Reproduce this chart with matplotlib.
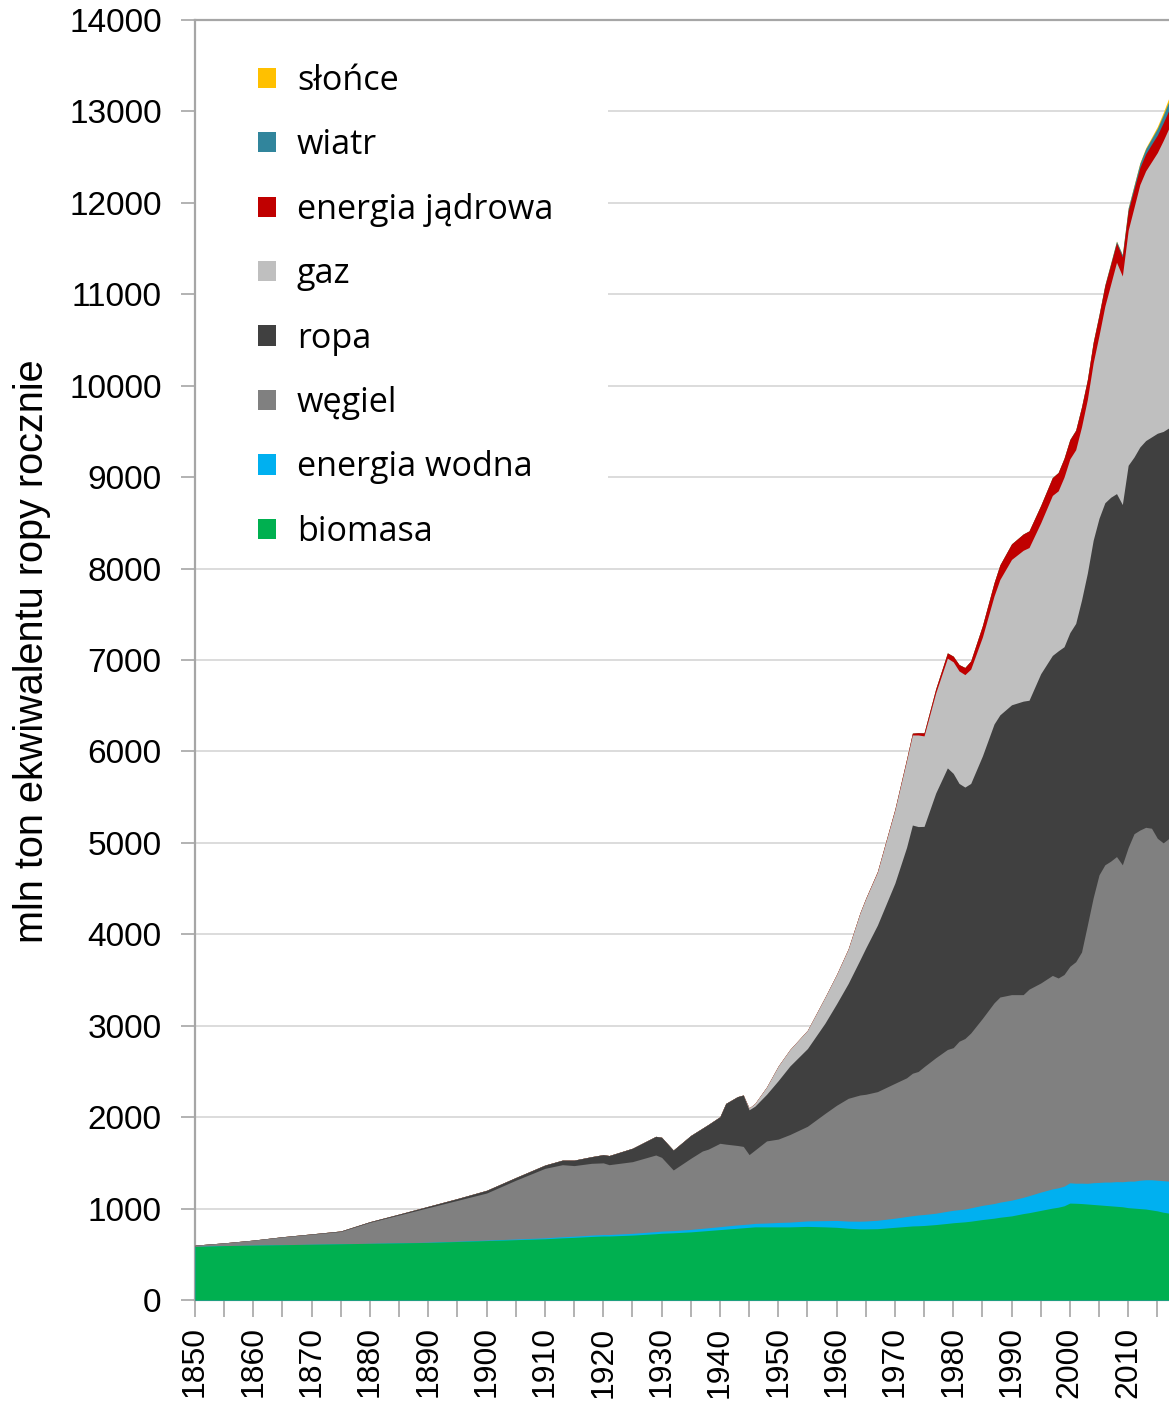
import matplotlib
matplotlib.use('Agg')
import matplotlib.pyplot as plt
import numpy as np
from matplotlib.patches import Patch, Rectangle

years = [1850, 1855, 1860, 1865, 1870, 1875, 1880, 1885, 1890, 1895,
         1900, 1905, 1910, 1913, 1915, 1918, 1920, 1921, 1925, 1929,
         1930, 1932, 1935, 1937, 1938, 1940, 1941, 1943, 1944, 1945,
         1946, 1948, 1950, 1952, 1955, 1958, 1960, 1962, 1964, 1965,
         1967, 1970, 1972, 1973, 1974, 1975, 1977, 1979, 1980, 1981,
         1982, 1983, 1985, 1987, 1988, 1990, 1992, 1993, 1995, 1997,
         1998, 1999, 2000, 2001, 2002, 2003, 2004, 2005, 2006, 2007,
         2008, 2009, 2010, 2011, 2012, 2013, 2014, 2015, 2016, 2017]

biomasa = [585, 595, 600, 605, 610, 615, 620, 625, 630, 640,
           650, 660, 670, 680, 685, 695, 700, 700, 710, 725,
           730, 735, 745, 755, 760, 770, 775, 785, 790, 795,
           800, 800, 800, 800, 805, 800, 795, 785, 778, 778,
           780, 795, 805, 810, 812, 815, 825, 838, 845, 850,
           855, 862, 880, 895, 905, 920, 945, 955, 980, 1005,
           1015, 1030, 1060, 1058, 1055, 1050, 1045, 1040, 1035, 1030,
           1025, 1020, 1010, 1005, 1000, 995, 985, 975, 960, 950]

energia_wodna = [0, 0, 0, 0, 0, 0, 0, 1, 2, 3,
                 5, 7, 10, 12, 13, 15, 16, 16, 19, 23,
                 24, 24, 27, 29, 30, 32, 34, 36, 36, 36,
                 38, 42, 48, 52, 60, 68, 75, 78, 84, 86,
                 92, 100, 108, 112, 118, 120, 124, 133, 136, 138,
                 140, 146, 155, 160, 165, 172, 178, 186, 200, 210,
                 212, 215, 222, 219, 223, 226, 238, 246, 255, 260,
                 270, 273, 290, 295, 310, 320, 330, 335, 345, 350]

wegiel = [15, 30, 55, 85, 110, 135, 230, 304, 378, 447,
          515, 643, 760, 788, 772, 785, 784, 764, 784, 838,
          806, 663, 778, 846, 860, 912, 896, 869, 854, 759,
          802, 898, 912, 958, 1035, 1172, 1260, 1343, 1380, 1386,
          1407, 1475, 1517, 1558, 1570, 1617, 1701, 1769, 1779, 1842,
          1865, 1912, 2045, 2195, 2244, 2248, 2217, 2259, 2287, 2335,
          2295, 2315, 2368, 2423, 2528, 2824, 3117, 3364, 3470, 3510,
          3555, 3467, 3650, 3800, 3830, 3855, 3845, 3740, 3695, 3750]

ropa = [0, 0, 0, 2, 3, 5, 7, 10, 15, 20,
        30, 30, 36, 50, 60, 73, 90, 100, 147, 204,
        220, 218, 250, 250, 270, 291, 445, 534, 562, 490,
        480, 510, 640, 750, 850, 987, 1110, 1257, 1477, 1600,
        1821, 2190, 2520, 2715, 2678, 2628, 2895, 3080, 3000, 2820,
        2750, 2730, 2870, 3050, 3086, 3170, 3210, 3160, 3383, 3500,
        3578, 3585, 3650, 3700, 3849, 3850, 3910, 3900, 3960, 3980,
        3970, 3940, 4180, 4120, 4190, 4230, 4280, 4430, 4500, 4490]

gaz = [0, 0, 0, 0, 0, 0, 0, 0, 0, 0,
       0, 0, 0, 0, 0, 0, 0, 0, 0, 0,
       0, 0, 0, 0, 0, 0, 0, 0, 0, 20,
       30, 80, 160, 180, 200, 283, 320, 377, 511, 540,
       580, 800, 950, 985, 1002, 990, 1095, 1200, 1220, 1230,
       1230, 1250, 1300, 1400, 1480, 1590, 1650, 1670, 1650, 1750,
       1750, 1855, 1900, 1900, 1895, 1900, 1940, 2000, 2150, 2330,
       2530, 2500, 2570, 2730, 2870, 2950, 3010, 3070, 3180, 3280]

energia_jadrowa = [0, 0, 0, 0, 0, 0, 0, 0, 0, 0,
                   0, 0, 0, 0, 0, 0, 0, 0, 0, 0,
                   0, 0, 0, 0, 0, 0, 0, 0, 0, 0,
                   0, 0, 0, 0, 0, 0.5, 1, 2, 3, 4,
                   6, 9, 15, 20, 25, 33, 45, 58, 62, 70,
                   78, 90, 125, 145, 160, 170, 178, 182, 190, 195,
                   200, 205, 210, 212, 215, 213, 220, 220, 222, 215,
                   212, 208, 212, 200, 185, 185, 190, 192, 195, 197]

wiatr = [0, 0, 0, 0, 0, 0, 0, 0, 0, 0,
         0, 0, 0, 0, 0, 0, 0, 0, 0, 0,
         0, 0, 0, 0, 0, 0, 0, 0, 0, 0,
         0, 0, 0, 0, 0, 0, 0, 0, 0, 0,
         0, 0, 0, 0, 0, 0, 0, 0, 0, 0,
         0, 0, 0, 0, 0, 0.3, 0.4, 0.5, 0.7, 1.0,
         1.3, 1.8, 2.7, 3.4, 4.6, 5.4, 7.3, 9, 11, 14.6,
         19, 24, 30, 37, 45, 55, 61, 71, 83, 97]

slonce = [0, 0, 0, 0, 0, 0, 0, 0, 0, 0,
          0, 0, 0, 0, 0, 0, 0, 0, 0, 0,
          0, 0, 0, 0, 0, 0, 0, 0, 0, 0,
          0, 0, 0, 0, 0, 0, 0, 0, 0, 0,
          0, 0, 0, 0, 0, 0, 0, 0, 0, 0,
          0, 0, 0, 0, 0, 0, 0, 0, 0, 0,
          0, 0, 0.1, 0.1, 0.1, 0.2, 0.2, 0.3, 0.5, 0.6,
          1, 1.7, 3, 5.5, 8.5, 11.5, 16, 22, 28, 38]

series_labels = ['biomasa', 'energia wodna', 'węgiel', 'ropa', 'gaz',
                 'energia jądrowa', 'wiatr', 'słońce']
series_colors = ['#00b050', '#00b0f0', '#808080', '#404040', '#bfbfbf',
                 '#c00000', '#31859c', '#ffc000']
y_ticks = list(range(0, 14001, 1000))
x_major = list(range(1850, 2011, 10))
x_minor = list(range(1855, 2016, 10))

plt.rcParams['font.family'] = ['Liberation Sans', 'DejaVu Sans']

W, H = 1169, 1402
fig = plt.figure(figsize=(W / 100, H / 100), dpi=100)
ax = fig.add_axes([195 / W, 102 / H, (W - 195) / W, 1280 / H])

data = np.array([biomasa, energia_wodna, wegiel, ropa, gaz,
                 energia_jadrowa, wiatr, slonce], dtype=float)
cum = np.cumsum(data, axis=0)
# draw from the top layer down so that each layer overlays the one above it
for i in range(len(series_colors) - 1, -1, -1):
    ax.fill_between(years, 0, cum[i], color=series_colors[i], linewidth=0,
                    zorder=3 + (len(series_colors) - i) * 0.01)

ax.set_xlim(1850, 2017)
ax.set_ylim(0, 14000)
ax.set_yticks(y_ticks)
ax.set_xticks(x_major)
ax.set_xticks(x_minor, minor=True)
ax.tick_params(axis='x', which='both', length=12, width=1.2, color='#a6a6a6',
               pad=7, labelsize=23, labelrotation=90)
ax.tick_params(axis='y', length=10, width=1.2, color='#a6a6a6', pad=14, labelsize=24)

for s in ['left', 'bottom', 'top']:
    ax.spines[s].set_color('#a6a6a6')
    ax.spines[s].set_linewidth(1.6)
ax.spines['right'].set_visible(False)

ax.set_axisbelow(True)
ax.grid(axis='y', color='#d9d9d9', linewidth=1.3)

ax.add_patch(Rectangle((0, 0.578), 0.424, 0.422, transform=ax.transAxes,
                       facecolor='white', edgecolor='none', zorder=1))

handles = [Patch(facecolor=c, edgecolor='none') for c in reversed(series_colors)]
leg = ax.legend(handles, list(reversed(series_labels)), loc='upper left',
                bbox_to_anchor=(258 / W, 1 - 64 / H), bbox_transform=fig.transFigure,
                frameon=False, borderpad=0, borderaxespad=0,
                handlelength=0.54, handleheight=0.54, handletextpad=0.6,
                labelspacing=0.89, prop={'family': 'Open Sans', 'size': 24.6})
leg.set_zorder(10)

fig.text(32 / W, 1 - 651 / H, 'mln ton ekwiwalentu ropy rocznie', rotation=90,
         ha='center', va='center', fontsize=28.5)

fig.savefig('out.png', dpi=100)
